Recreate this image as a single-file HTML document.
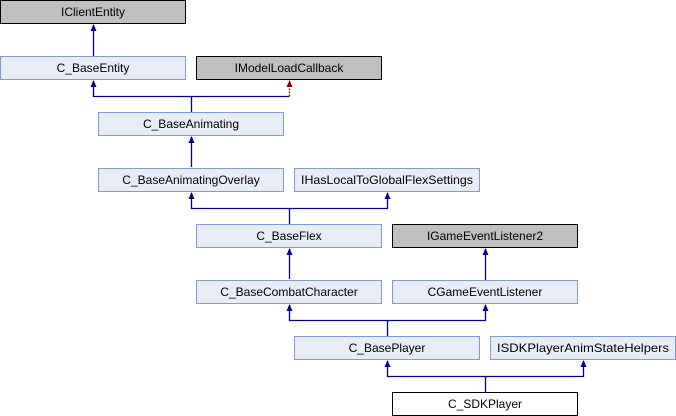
<!DOCTYPE html>
<html><head><style>body{margin:0;background:#fff}svg{display:block}text{font-family:"Liberation Sans",Arial,sans-serif;font-size:12px}</style></head><body>
<svg width="676" height="416" xmlns="http://www.w3.org/2000/svg">
<g fill="none" stroke="#000080" stroke-width="1.3">
<path d="M93.5,56 V25"/>
<path d="M191.5,112 V96.5 H93.5 V81"/>
<path d="M191.5,96.5 H289.5"/>
<path d="M191.5,137 V167"/>
<path d="M289.5,224 V208.5 H191.5 V193"/>
<path d="M289.5,208.5 H387.5 V193"/>
<path d="M289.5,249 V279"/>
<path d="M485.5,280 V249"/>
<path d="M387.5,336 V320.5 H289.5 V305"/>
<path d="M387.5,320.5 H485.5 V305"/>
<path d="M485.5,392 V376.5 H387.5 V361"/>
<path d="M485.5,376.5 H583.5 V361"/>
</g>
<path d="M289.5,96 V85" fill="none" stroke="#8b0000" stroke-width="1.3" stroke-dasharray="1.5,1.5"/>
<g fill="#000080">
<path d="M90.5,31 L93.5,24 L96.5,31Z"/><path d="M90.5,87 L93.5,80 L96.5,87Z"/>
<path d="M188.5,143 L191.5,136 L194.5,143Z"/><path d="M188.5,199 L191.5,192 L194.5,199Z"/>
<path d="M384.5,199 L387.5,192 L390.5,199Z"/><path d="M286.5,255 L289.5,248 L292.5,255Z"/>
<path d="M482.5,255 L485.5,248 L488.5,255Z"/><path d="M286.5,311 L289.5,304 L292.5,311Z"/>
<path d="M482.5,311 L485.5,304 L488.5,311Z"/><path d="M384.5,367 L387.5,360 L390.5,367Z"/>
<path d="M580.5,367 L583.5,360 L586.5,367Z"/>
</g>
<path d="M286.5,87 L289.5,80 L292.5,87Z" fill="#8b0000"/>
<g stroke-width="1">
<rect x="0.5" y="0.5" width="185" height="23" fill="#bfbfbf" stroke="#000"/>
<rect x="0.5" y="56.5" width="185" height="23" fill="#e8ecf5" stroke="#7f9bd0"/>
<rect x="196.5" y="56.5" width="185" height="23" fill="#bfbfbf" stroke="#000"/>
<rect x="98.5" y="112.5" width="185" height="23" fill="#e8ecf5" stroke="#7f9bd0"/>
<rect x="98.5" y="168.5" width="185" height="23" fill="#e8ecf5" stroke="#7f9bd0"/>
<rect x="294.5" y="168.5" width="185" height="23" fill="#e8ecf5" stroke="#7f9bd0"/>
<rect x="196.5" y="224.5" width="185" height="23" fill="#e8ecf5" stroke="#7f9bd0"/>
<rect x="392.5" y="224.5" width="185" height="23" fill="#bfbfbf" stroke="#000"/>
<rect x="196.5" y="280.5" width="185" height="23" fill="#e8ecf5" stroke="#7f9bd0"/>
<rect x="392.5" y="280.5" width="185" height="23" fill="#e8ecf5" stroke="#7f9bd0"/>
<rect x="294.5" y="336.5" width="185" height="23" fill="#e8ecf5" stroke="#7f9bd0"/>
<rect x="490.5" y="336.5" width="185" height="23" fill="#e8ecf5" stroke="#7f9bd0"/>
<rect x="392.5" y="392.5" width="185" height="23" fill="#fff" stroke="#000"/>
</g>
<g text-anchor="middle" fill="#000">
<text x="93" y="16">IClientEntity</text>
<text x="93" y="72">C_BaseEntity</text>
<text x="289" y="72">IModelLoadCallback</text>
<text x="191" y="128">C_BaseAnimating</text>
<text x="191" y="184">C_BaseAnimatingOverlay</text>
<text x="387" y="184" textLength="172" lengthAdjust="spacingAndGlyphs">IHasLocalToGlobalFlexSettings</text>
<text x="289" y="240">C_BaseFlex</text>
<text x="485" y="240">IGameEventListener2</text>
<text x="289" y="296">C_BaseCombatCharacter</text>
<text x="485" y="296">CGameEventListener</text>
<text x="387" y="352">C_BasePlayer</text>
<text x="583" y="352" textLength="172" lengthAdjust="spacingAndGlyphs">ISDKPlayerAnimStateHelpers</text>
<text x="485" y="408">C_SDKPlayer</text>
</g>
</svg>
</body></html>
